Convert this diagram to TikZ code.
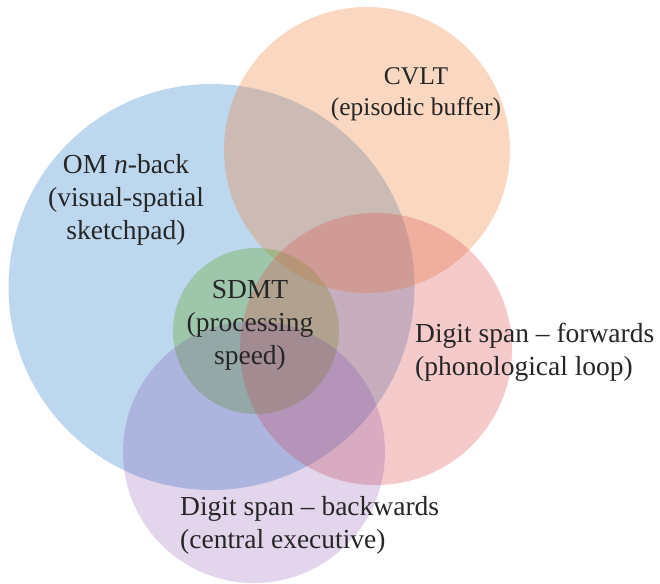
\documentclass[tikz,border=0pt]{standalone}
\usepackage{fontspec}
\setmainfont{Liberation Serif}
\definecolor{cblue}{RGB}{91,155,213}
\definecolor{corange}{RGB}{237,125,49}
\definecolor{cred}{RGB}{220,80,80}
\definecolor{cgreen}{RGB}{112,173,71}
\definecolor{cpurple}{RGB}{112,48,160}
\begin{document}
\begin{tikzpicture}[x=1pt,y=-1pt,
  lbl/.style={inner sep=0pt,font=\fontsize{27.5}{33}\selectfont,text=black!85},
  setc/.style={draw=none,fill=#1}]
\useasboundingbox (0,0) rectangle (660,583);
\fill[white] (0,0) rectangle (660,583);
\fill[cblue,fill opacity=0.4] (211.5,287) circle[radius=203pt];
\fill[corange,fill opacity=0.3] (367,150) circle[radius=143pt];
\fill[cgreen,fill opacity=0.4] (256,331) circle[radius=83pt];
\fill[cred,fill opacity=0.3] (376,349) circle[radius=136pt];
\fill[cpurple,fill opacity=0.2] (254,452) circle[radius=131pt];
\node[lbl,align=center,font=\fontsize{25.5}{31}\selectfont] (cvlt) at (416,94) {CVLT\\(episodic buffer)};
\node[lbl,align=center] (om) at (126,200) {OM \textit{n}-back\\(visual-spatial\\sketchpad)};
\node[lbl,align=center] (sdmt) at (250,325) {SDMT\\(processing\\speed)};
\node[lbl,align=left,anchor=west] (fwd) at (415,352) {Digit span – forwards\\(phonological loop)};
\node[lbl,align=left,anchor=west] (bwd) at (180,525) {Digit span – backwards\\(central executive)};
\end{tikzpicture}
\end{document}
